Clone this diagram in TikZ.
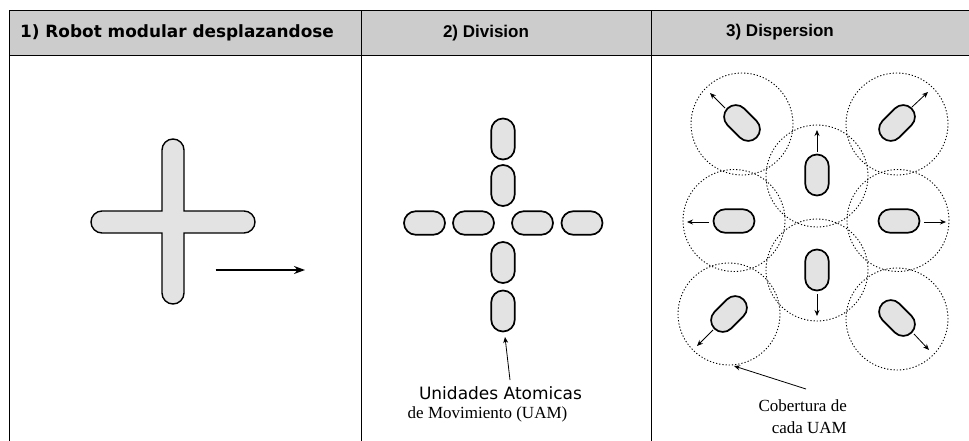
\documentclass[tikz,border=0pt]{standalone}
\usepackage{fontspec}
\setmainfont{Liberation Serif}
\newfontfamily\dejavu{DejaVu Sans}
\newfontfamily\libsans{Liberation Sans}
\usetikzlibrary{shapes.misc,arrows.meta}
\definecolor{headgray}{gray}{0.8}
\definecolor{bodygray}{gray}{0.89}
\tikzset{
  x=1pt,y=-1pt,
  uam/.style={rounded rectangle,draw=black,line width=1.7pt,fill=bodygray,minimum width=41pt,minimum height=23.5pt,inner sep=0pt,outer sep=0pt},
  cover/.style={circle,draw=black,dash pattern=on 1.2pt off 2pt,line width=0.9pt,minimum size=102pt,inner sep=0pt},
  tableline/.style={draw=black,line width=1pt},
  arr/.style={-{Stealth[length=6pt,width=5pt]},line width=0.8pt},
  big/.style={-{Stealth[length=11pt,width=8pt]},line width=1.2pt},
  tag/.style={inner sep=0pt,anchor=center},
}
\begin{document}
\begin{tikzpicture}
\useasboundingbox (0,0) rectangle (969,441);
% table
\fill[headgray] (9,11) rectangle (969,56);
\coordinate (tl) at (9,11); \coordinate (tr) at (969,11);
\coordinate (hl) at (9,56); \coordinate (hr) at (969,56);
\coordinate (bl) at (9,441);
\coordinate (c1t) at (361.5,11); \coordinate (c1b) at (361.5,441);
\coordinate (c2t) at (651.5,11); \coordinate (c2b) at (651.5,441);
\draw[tableline] (bl) -- (tl) -- (tr);
\draw[tableline] (hl) -- (hr);
\draw[tableline] (c1t) -- (c1b);
\draw[tableline] (c2t) -- (c2b);
\node[tag,font=\dejavu\bfseries\fontsize{16.9}{20}\selectfont] (h1) at (177,33) {1) Robot modular desplazandose};
\node[tag,font=\libsans\bfseries\fontsize{17}{20}\selectfont] (h2) at (486,33) {2) Division};
\node[tag,font=\libsans\bfseries\fontsize{17}{20}\selectfont] (h3) at (780,32) {3) Dispersion};
% panel 1: cross
\path[fill=bodygray,draw=black,line width=1.4pt]
  (162,150) arc[start angle=180,end angle=360,radius=11] -- (184,211) -- (244,211)
  arc[start angle=-90,end angle=90,radius=11] -- (184,233) -- (184,293)
  arc[start angle=0,end angle=180,radius=11] -- (162,233) -- (102,233)
  arc[start angle=90,end angle=270,radius=11] -- (162,211) -- cycle;
\coordinate (m1) at (215.5,270); \coordinate (m2) at (305,270);
\draw[big] (m1) -- (m2);
% panel 2: division
\node[uam,rotate=90] (v1) at (503,139) {};
\node[uam,rotate=90] (v2) at (503,185.5) {};
\node[uam,rotate=90] (v3) at (503,262.5) {};
\node[uam,rotate=90] (v4) at (503,311) {};
\node[uam] (w1) at (424.5,223) {};
\node[uam] (w2) at (473.5,223) {};
\node[uam] (w3) at (532.5,223) {};
\node[uam] (w4) at (582,223) {};
\node[tag,font=\dejavu\fontsize{17}{20}\selectfont] (lab1) at (500.5,393) {Unidades Atomicas};
\node[tag,font=\fontsize{17}{20}\selectfont] (lab2) at (487.5,414) {de Movimiento (UAM)};
\coordinate (a0) at (510,380); \coordinate (a1) at (505,337);
\draw[arr] (a0) -- (a1);
% panel 3: dispersion
\node[cover] (c1) at (742,124) {};
\node[cover] (c2) at (897,124) {};
\node[cover] (c3) at (817,176) {};
\node[cover] (c4) at (734,220.5) {};
\node[cover] (c5) at (898,220.5) {};
\node[cover] (c6) at (817,270) {};
\node[cover] (c7) at (729,314) {};
\node[cover] (c8) at (897,319) {};
\node[uam,rotate=-45] (p1) at (742,123) {};
\node[uam,rotate=45] (p2) at (897,123) {};
\node[uam,rotate=90] (p3) at (817,175) {};
\node[uam] (p4) at (734,221) {};
\node[uam] (p5) at (899,221) {};
\node[uam,rotate=90] (p6) at (817,270) {};
\node[uam,rotate=45] (p7) at (729,314) {};
\node[uam,rotate=-45] (p8) at (897,318) {};
\coordinate (s1) at (725,108); \coordinate (e1) at (710,93);
\coordinate (s2) at (912,107); \coordinate (e2) at (928,92);
\coordinate (s3) at (817,152); \coordinate (e3) at (817,130);
\coordinate (s4) at (709,222); \coordinate (e4) at (687,222);
\coordinate (s5) at (924,222); \coordinate (e5) at (946,222);
\coordinate (s6) at (817,294); \coordinate (e6) at (817,316);
\coordinate (s7) at (713,330); \coordinate (e7) at (697,346);
\coordinate (s8) at (914,334); \coordinate (e8) at (929,350);
\foreach \i in {1,...,8} \draw[arr] (s\i) -- (e\i);
\coordinate (ls) at (806,389); \coordinate (le) at (734,366);
\draw[arr] (ls) -- (le);
\node[tag,font=\fontsize{17}{20}\selectfont,anchor=east] (lab3) at (847,406) {Cobertura de};
\node[tag,font=\fontsize{17}{20}\selectfont,anchor=east] (lab4) at (847,428) {cada UAM};
\end{tikzpicture}
\end{document}
